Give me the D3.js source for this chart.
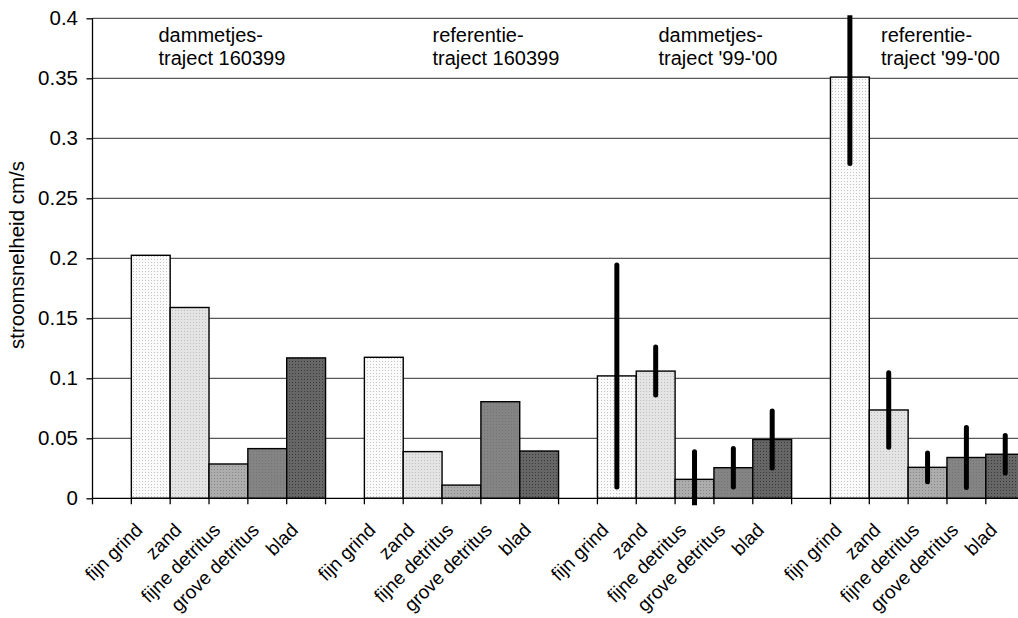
<!DOCTYPE html>
<html>
<head>
<meta charset="utf-8">
<script src="https://cdn.jsdelivr.net/npm/d3@7"></script>
<style>
  html, body { margin: 0; padding: 0; background: #fff; overflow: hidden; }
  svg { display: block; font-family: "Liberation Sans", Arial, sans-serif; }
</style>
</head>
<body>
<svg id="chart" width="1018" height="618"></svg>
<script>
// Substrate categories shown in every group
const categories = ["fijn grind", "zand", "fijne detritus", "grove detritus", "blad"];

// Group headings (two lines each)
const groupTitles = [
  ["dammetjes-", "traject 160399"],
  ["referentie-", "traject 160399"],
  ["dammetjes-", "traject '99-'00"],
  ["referentie-", "traject '99-'00"]
];

// Flow velocity (cm/s) per category
const dammetjes160399 = [0.2025, 0.159, 0.0286, 0.0414, 0.117];
const referentie160399 = [0.1175, 0.0389, 0.011, 0.0805, 0.0394];
const dammetjes9900 = [0.102, 0.106, 0.0158, 0.0255, 0.049];
const referentie9900 = [0.351, 0.0736, 0.0258, 0.034, 0.0367];

// Spread (±) shown as error bars for the '99-'00 series
const dammetjes9900Err = [0.0925, 0.02, 0.023, 0.016, 0.0237];
const referentie9900Err = [0.072, 0.031, 0.012, 0.025, 0.0157];

// Y axis ticks
const yTickValues = [0, 0.05, 0.1, 0.15, 0.2, 0.25, 0.3, 0.35, 0.4];
const yTickLabels = ["0", "0.05", "0.1", "0.15", "0.2", "0.25", "0.3", "0.35", "0.4"];

const yTitle = "stroomsnelheid cm/s";

const groups = [
  { title: groupTitles[0], values: dammetjes160399, err: null },
  { title: groupTitles[1], values: referentie160399, err: null },
  { title: groupTitles[2], values: dammetjes9900, err: dammetjes9900Err },
  { title: groupTitles[3], values: referentie9900, err: referentie9900Err }
];

// Build slot list: one empty slot before each group, then one slot per category
const slots = [];
const bars = [];
groups.forEach((g, gi) => {
  slots.push(`gap-${gi}`);
  categories.forEach((c, ci) => {
    const key = `${gi}-${ci}`;
    slots.push(key);
    bars.push({ key, gi, ci, cat: c, value: g.values[ci], err: g.err ? g.err[ci] : null });
  });
});

const svg = d3.select("#chart");
const plotLeft = 92.5, plotTop = 18.3, plotBottom = 498.3;
const slotW = 38.84;

const x = d3.scaleBand().domain(slots).range([plotLeft, plotLeft + slots.length * slotW]).paddingInner(0).paddingOuter(0);
const y = d3.scaleLinear().domain([0, 0.4]).range([plotBottom, plotTop]);

// Dotted fill patterns, one per category
const fills = [
  { base: "#fbfbfb", dot: "#c4c4c4" },
  { base: "#e4e4e4", dot: "#bdbdbd" },
  { base: "#adadad", dot: "#858585" },
  { base: "#848484", dot: "#747474" },
  { base: "#666666", dot: "#3a3a3a" }
];
const defs = svg.append("defs");
fills.forEach((f, i) => {
  const p = defs.append("pattern")
    .attr("id", `pat${i}`)
    .attr("patternUnits", "userSpaceOnUse")
    .attr("width", 3).attr("height", 3);
  p.append("rect").attr("width", 3).attr("height", 3).attr("fill", f.base);
  p.append("rect").attr("x", 1).attr("y", 1).attr("width", 1).attr("height", 1).attr("fill", f.dot);
});
defs.append("clipPath").attr("id", "plotClip")
  .append("rect").attr("x", plotLeft).attr("y", plotTop - 3).attr("width", 1100).attr("height", plotBottom - plotTop + 10);

// Horizontal gridlines
svg.append("g").selectAll("line").data(yTickValues.filter(v => v > 0)).join("line")
  .attr("x1", plotLeft).attr("x2", 1018)
  .attr("y1", d => y(d)).attr("y2", d => y(d))
  .attr("stroke", "#303030").attr("stroke-width", 1);

// Bars
svg.append("g").selectAll("rect").data(bars).join("rect")
  .attr("x", d => x(d.key))
  .attr("y", d => y(d.value))
  .attr("width", x.bandwidth())
  .attr("height", d => y(0) - y(d.value))
  .attr("fill", d => `url(#pat${d.ci})`)
  .attr("stroke", "#000").attr("stroke-width", 1.4);

// Error bars
svg.append("g").attr("clip-path", "url(#plotClip)")
  .selectAll("line").data(bars.filter(d => d.err !== null)).join("line")
  .attr("x1", d => x(d.key) + x.bandwidth() / 2)
  .attr("x2", d => x(d.key) + x.bandwidth() / 2)
  .attr("y1", d => y(d.value + d.err))
  .attr("y2", d => y(d.value - d.err))
  .attr("stroke", "#000").attr("stroke-width", 5).attr("stroke-linecap", "round");

// Y axis
const yAxis = d3.axisLeft(y).tickValues(yTickValues)
  .tickFormat((d, i) => yTickLabels[i]).tickSize(6).tickPadding(8.5);
const gy = svg.append("g").attr("transform", `translate(${plotLeft},0)`).call(yAxis);
gy.select(".domain").attr("stroke", "#000").attr("stroke-width", 1.3).attr("d", `M0,${plotTop}V${plotBottom}`);
gy.selectAll(".tick line").attr("stroke", "#000").attr("stroke-width", 1.3);
gy.selectAll(".tick text").attr("font-size", 20.5).attr("fill", "#000")
  .attr("font-family", "Liberation Sans, Arial, sans-serif");

// X axis line and slot boundary ticks
const gx = svg.append("g");
gx.append("line").attr("x1", plotLeft).attr("x2", 1018).attr("y1", plotBottom).attr("y2", plotBottom)
  .attr("stroke", "#000").attr("stroke-width", 1.3);
gx.selectAll("line.tick").data(slots).join("line").attr("class", "tick")
  .attr("x1", d => x(d)).attr("x2", d => x(d))
  .attr("y1", plotBottom).attr("y2", plotBottom + 6)
  .attr("stroke", "#000").attr("stroke-width", 1.3);

// Rotated category labels
gx.selectAll("text").data(bars).join("text")
  .attr("transform", d => `translate(${x(d.key) + x.bandwidth() / 2 - 7},${plotBottom + 33}) rotate(-45)`)
  .attr("text-anchor", "end")
  .attr("font-size", 19).attr("fill", "#000")
  .text(d => d.cat);

// Group headings
const titlePos = [158.5, 432.5, 658.5, 881];
const gt = svg.append("g");
groups.forEach((g, gi) => {
  const t = gt.append("text").attr("font-size", 20).attr("fill", "#000");
  g.title.forEach((line, li) => {
    t.append("tspan").attr("x", titlePos[gi]).attr("y", 41.5 + li * 23.5).text(line);
  });
});

// Y axis title
svg.append("text")
  .attr("transform", `translate(24,255) rotate(-90)`)
  .attr("text-anchor", "middle")
  .attr("font-size", 20.5).attr("fill", "#000")
  .text(yTitle);
</script>
</body>
</html>
